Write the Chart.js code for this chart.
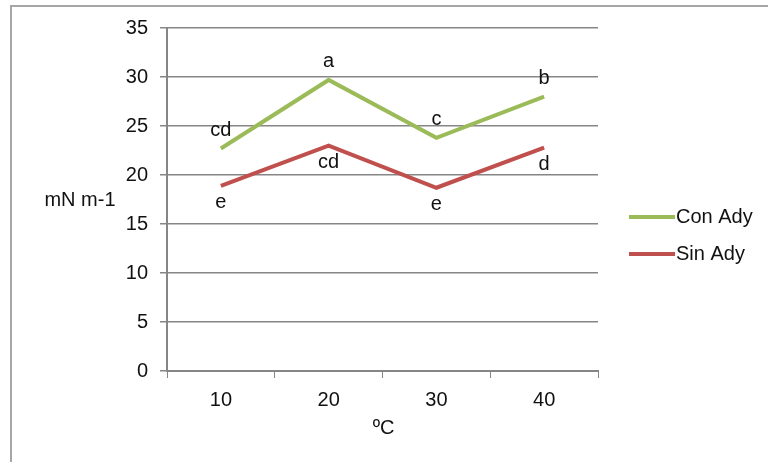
<!DOCTYPE html>
<html>
<head>
<meta charset="utf-8">
<script src="https://cdn.jsdelivr.net/npm/chart.js@4"></script>
<style>
  html, body { margin: 0; padding: 0; background: #fff; }
  #wrap { position: relative; width: 768px; height: 462px; }
</style>
</head>
<body>
<div id="wrap"><canvas id="chart" width="768" height="462"></canvas></div>
<script>
var categories = ['10', '20', '30', '40'];
var conAdy = [22.7, 29.7, 23.8, 28.0];
var sinAdy = [18.9, 23.0, 18.7, 22.8];
var conLabels = ['cd', 'a', 'c', 'b'];
var sinLabels = ['e', 'cd', 'e', 'd'];
var seriesNames = ['Con Ady', 'Sin Ady'];
var yTitle = 'mN m-1';
var xTitle = 'ºC';

var FONT = '"Liberation Sans", Arial, sans-serif';
var FSIZE = 20;
var textColor = '#111';
var axisColor = '#868686';

// letters above / below each point, legend, axis titles, outer frame
var extras = {
  id: 'extras',
  beforeDraw: function (chart) {
    var ctx = chart.ctx;
    ctx.save();
    ctx.strokeStyle = '#a6a6a6';
    ctx.lineWidth = 2;
    ctx.beginPath();
    ctx.moveTo(11, 462);
    ctx.lineTo(11, 6);
    ctx.lineTo(768, 6);
    ctx.stroke();
    ctx.restore();
  },
  afterDatasetsDraw: function (chart) {
    var ctx = chart.ctx;
    var area = chart.chartArea;
    ctx.save();
    ctx.font = FSIZE + 'px ' + FONT;
    ctx.fillStyle = textColor;
    ctx.textAlign = 'center';
    ctx.textBaseline = 'middle';
    var sets = [[0, conLabels, -18], [1, sinLabels, 17]];
    sets.forEach(function (s) {
      var meta = chart.getDatasetMeta(s[0]);
      meta.data.forEach(function (pt, i) {
        ctx.fillText(s[1][i], pt.x, pt.y + s[2]);
      });
    });

    // axis titles
    ctx.fillText(yTitle, 80, (area.top + area.bottom) / 2 + 1);
    ctx.fillText(xTitle, (area.left + area.right) / 2 + 1, 428);

    // legend
    var ys = [217, 254];
    ctx.textAlign = 'left';
    chart.data.datasets.forEach(function (ds, i) {
      ctx.strokeStyle = ds.borderColor;
      ctx.lineWidth = 4;
      ctx.beginPath();
      ctx.moveTo(629, ys[i]);
      ctx.lineTo(675, ys[i]);
      ctx.stroke();
      ctx.fillText(ds.label, 676, ys[i]);
    });
    ctx.restore();
  }
};

var chart = new Chart(document.getElementById('chart'), {
  type: 'line',
  data: {
    labels: categories,
    datasets: [
      { label: seriesNames[0], data: conAdy, borderColor: '#9bbb59', borderWidth: 4, pointRadius: 0, tension: 0 },
      { label: seriesNames[1], data: sinAdy, borderColor: '#c0504d', borderWidth: 4, pointRadius: 0, tension: 0 }
    ]
  },
  options: {
    responsive: false,
    animation: false,
    layout: { padding: { left: 10, top: 28, right: 170, bottom: 0 } },
    plugins: { legend: { display: false }, tooltip: { enabled: false } },
    scales: {
      x: {
        type: 'category',
        offset: true,
        grid: { display: true, drawOnChartArea: false, drawTicks: true, tickLength: 7, color: axisColor, offset: true },
        border: { display: true, color: axisColor, width: 2 },
        ticks: { color: textColor, font: { family: FONT, size: FSIZE }, padding: 10 },
        afterFit: function (scale) { scale.height = 91; }
      },
      y: {
        min: 0,
        max: 35,
        ticks: { stepSize: 5, color: textColor, font: { family: FONT, size: FSIZE }, padding: 12 },
        grid: { color: axisColor, lineWidth: 1.5, tickLength: 7, drawTicks: true },
        border: { display: true, color: axisColor, width: 2 },
        afterFit: function (scale) { scale.width = 157; }
      }
    }
  },
  plugins: [extras]
});
</script>
</body>
</html>
